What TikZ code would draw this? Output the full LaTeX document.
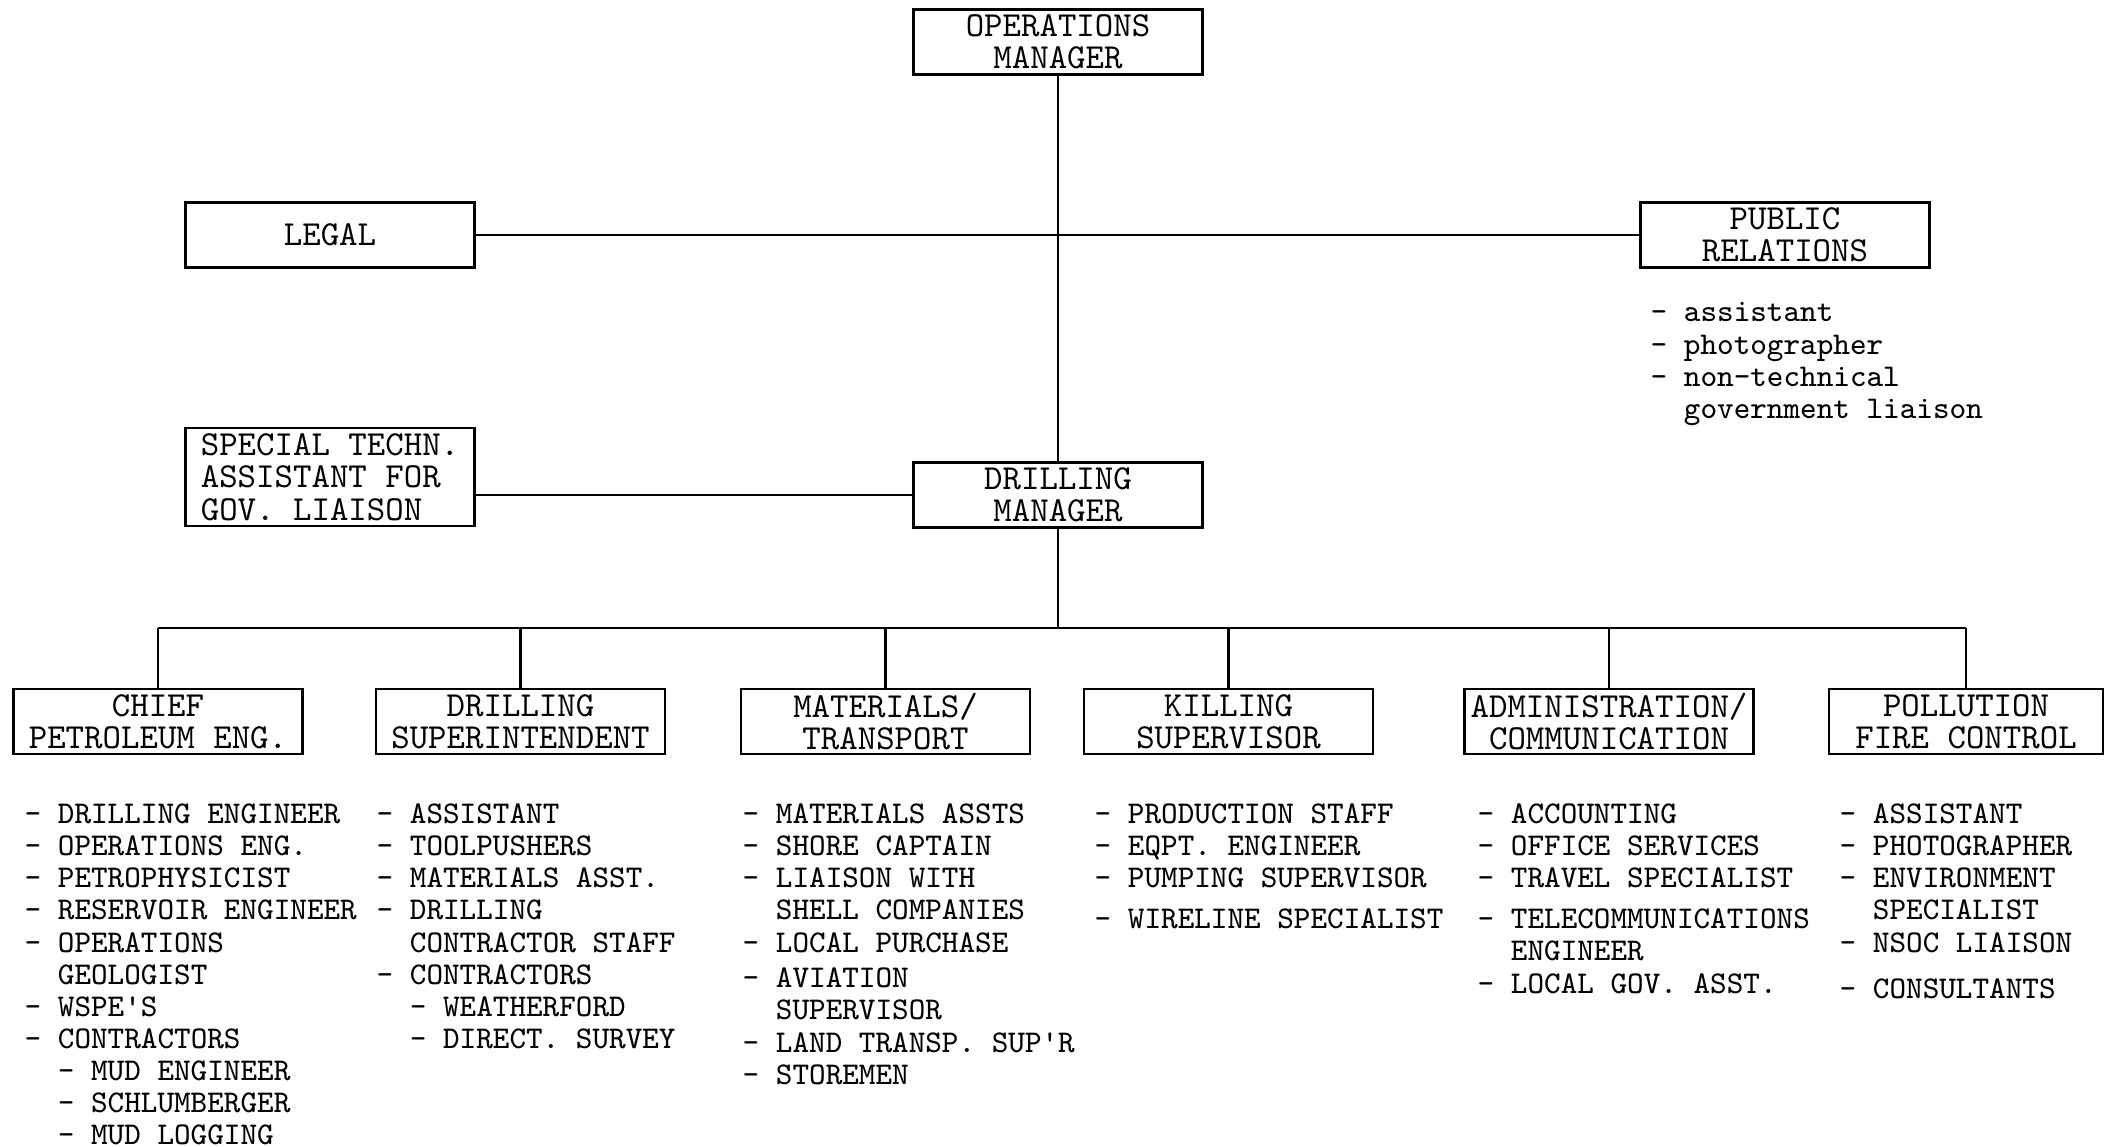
\documentclass[tikz,border=0pt]{standalone}
\usepackage{tikz}
\usetikzlibrary{calc}
\newcommand{\ein}{\hphantom{- }}

\begin{document}
\begin{tikzpicture}[
    box/.style={draw, semithick, minimum width=2.89cm, minimum height=0.65cm,
      inner sep=1pt, align=center, font=\fontsize{10}{9.2}\selectfont\ttfamily},
    liste/.style={anchor=north west, inner sep=0pt, align=left,
      font=\fontsize{9}{9.15}\selectfont\ttfamily},
    linie/.style={semithick},
    hlinie/.style={thick}]
  \useasboundingbox (0,0) rectangle (21.05,-11.47);
  % obere Ebene
  \node[box] (om) at (10.58,-0.42) {OPERATIONS\\MANAGER};
  \node[box] (legal) at (3.30,-2.35) {LEGAL};
  \node[box] (pr) at (17.85,-2.35) {PUBLIC\\RELATIONS};
  \node[box, align=left, minimum height=0.98cm] (stl) at (3.30,-4.77)
    {SPECIAL TECHN.\\ASSISTANT FOR\\GOV. LIAISON};
  \node[box] (dm) at (10.58,-4.95) {DRILLING\\MANAGER};
  \coordinate (bus) at (10.58,-6.28);

  \draw[linie] (om) -- (dm);
  \draw[hlinie] (legal) -- (pr);
  \draw[hlinie] (dm.west -| stl.east) -- (dm.west);
  \draw[linie] (dm) -- (bus);

  % untere Ebene
  \foreach \n/\x/\txt in {
    chief/1.58/{CHIEF\\PETROLEUM ENG.},
    dsup/5.205/{DRILLING\\SUPERINTENDENT},
    mat/8.855/{MATERIALS/\\TRANSPORT},
    kill/12.285/{KILLING\\SUPERVISOR},
    admin/16.09/{ADMINISTRATION/\\COMMUNICATION}}{
    \node[box] (\n) at (\x,-7.215) {\txt};
  }
  \node[box, minimum width=2.74cm] (poll) at (19.66,-7.215) {POLLUTION\\FIRE CONTROL};
  \draw[hlinie] (chief.north |- bus) -- (poll.north |- bus);
  \foreach \n in {chief,dsup,mat,kill,admin,poll}
    \draw[linie] (\n.north |- bus) -- (\n.north);

  \node[liste] (prl) at (16.50,-3.02) {- assistant\\- photographer\\- non-technical\\\ein government liaison};

  \node[liste] (chiefl) at (0.24,-8.03) {- DRILLING ENGINEER\\- OPERATIONS ENG.\\- PETROPHYSICIST\\
    - RESERVOIR ENGINEER\\- OPERATIONS\\\ein GEOLOGIST\\- WSPE\textquotesingle S\\- CONTRACTORS\\
    \ein- MUD ENGINEER\\\ein- SCHLUMBERGER\\\ein- MUD LOGGING};
  \node[liste] (dsupl) at (3.76,-8.03) {- ASSISTANT\\- TOOLPUSHERS\\- MATERIALS ASST.\\- DRILLING\\
    \ein CONTRACTOR STAFF\\- CONTRACTORS\\\ein- WEATHERFORD\\\ein- DIRECT. SURVEY};
  \node[liste] (matl) at (7.42,-8.03) {- MATERIALS ASSTS\\- SHORE CAPTAIN\\- LIAISON WITH\\
    \ein SHELL COMPANIES\\- LOCAL PURCHASE\\[1pt]- AVIATION\\\ein SUPERVISOR\\
    - LAND TRANSP. SUP\textquotesingle R\\- STOREMEN};
  \node[liste] (killl) at (10.94,-8.03) {- PRODUCTION STAFF\\- EQPT. ENGINEER\\
    - PUMPING SUPERVISOR\\[2.3pt]- WIRELINE SPECIALIST};
  \node[liste] (adminl) at (14.77,-8.03) {- ACCOUNTING\\- OFFICE SERVICES\\- TRAVEL SPECIALIST\\[2.5pt]
    - TELECOMMUNICATIONS\\\ein ENGINEER\\- LOCAL GOV. ASST.};
  \node[liste] (polll) at (18.39,-8.03) {- ASSISTANT\\- PHOTOGRAPHER\\- ENVIRONMENT\\
    \ein SPECIALIST\\- NSOC LIAISON\\[4pt]- CONSULTANTS};
\end{tikzpicture}
\end{document}
